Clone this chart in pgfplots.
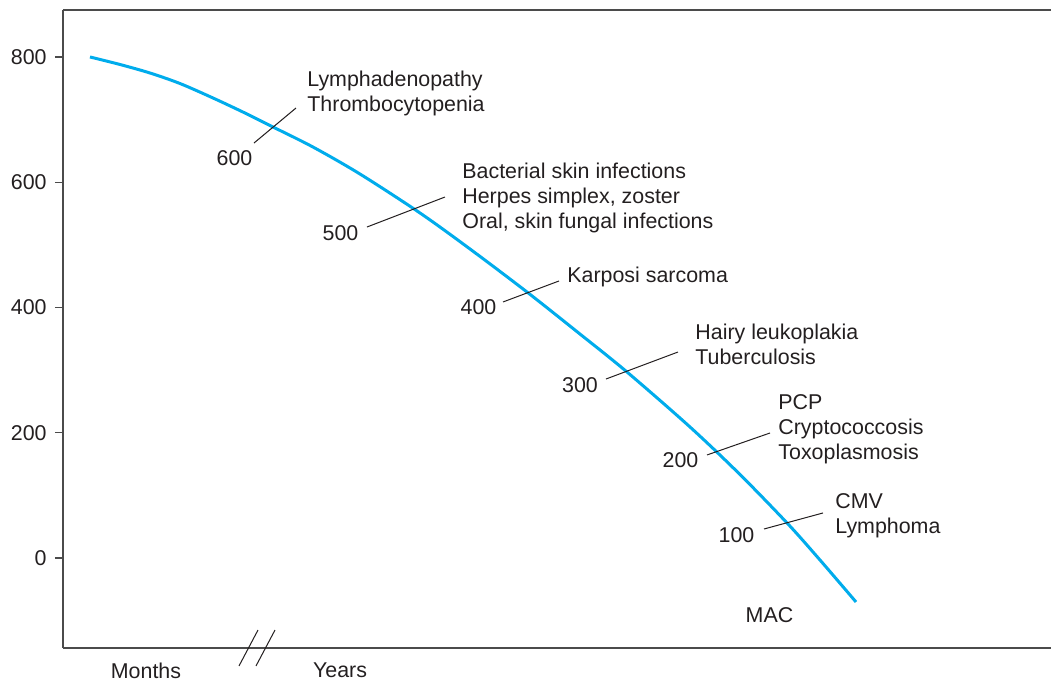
\documentclass[border=0pt]{standalone}
\usepackage{pgfplots}
\pgfplotsset{compat=1.18}
\usepackage{fontspec}
\setmainfont{Liberation Sans}
\definecolor{curve}{RGB}{0,172,236}
\definecolor{txt}{RGB}{35,31,32}
\definecolor{spine}{RGB}{75,75,75}
\newcommand{\lbl}{\fontsize{10.7}{12.5}\selectfont}
\begin{document}
\begin{tikzpicture}[x=1pt,y=1pt]
\useasboundingbox (0,0) rectangle (525.5,340.5);
\begin{axis}[
  at={(31.5pt,16.5pt)}, anchor=south west,
  scale only axis, width=494pt, height=319pt,
  xmin=63, xmax=1051, ymin=-143.7, ymax=875,
  axis x line*=bottom, axis y line*=left,
  axis line style={spine, line width=0.7pt},
  clip=false,
  xtick=\empty,
  ytick={0,200,400,600,800},
  tick align=outside,
  major tick length=4pt,
  ytick style={spine, line width=0.6pt},
  /pgf/number format/assume math mode=true,
  yticklabel style={font=\lbl, text=txt, anchor=east, inner sep=0pt, xshift=-4pt},
]
\addplot[curve, line width=1.5pt, smooth, tension=0.5] coordinates {
 (90,800) (120,788.0) (150,774.4) (180,757.6) (213,734.5) (245,710.5)
 (273,688.2) (313,656.2) (360,613.1) (420,550.9) (470,493.4) (527,424.7)
 (580,357.6) (627,297.0) (690,209.2) (740,133.3) (788,54.3) (820,-3.2)
 (856,-70.2)
};
\draw[spine, line width=0.7pt] (rel axis cs:0,1) -- (rel axis cs:1,1);
% leaders
\draw[txt, line width=0.5pt] (axis cs:254,662.6) -- (axis cs:296,718.5);
\draw[txt, line width=0.5pt] (axis cs:367,528.5) -- (axis cs:445,576.4);
\draw[txt, line width=0.5pt] (axis cs:503,408.8) -- (axis cs:559,442.3);
\draw[txt, line width=0.5pt] (axis cs:606,285.8) -- (axis cs:678,328.9);
\draw[txt, line width=0.5pt] (axis cs:707,164.5) -- (axis cs:770,199.6);
\draw[txt, line width=0.5pt] (axis cs:764,46.3) -- (axis cs:823,71.9);
% numbers
\node[font=\lbl, text=txt] at (axis cs:234.5,638.7) {600};
\node[font=\lbl, text=txt] at (axis cs:340.5,518.9) {500};
\node[font=\lbl, text=txt] at (axis cs:478.5,400.8) {400};
\node[font=\lbl, text=txt] at (axis cs:580,276.2) {300};
\node[font=\lbl, text=txt] at (axis cs:680.5,156.5) {200};
\node[font=\lbl, text=txt] at (axis cs:736.5,36.7) {100};
% texts
\node[font=\lbl, text=txt, anchor=west, align=left, inner sep=0pt] at (axis cs:307,742.5) {Lymphadenopathy\\Thrombocytopenia};
\node[font=\lbl, text=txt, anchor=west, align=left, inner sep=0pt] at (axis cs:462,575.5) {Bacterial skin infections\\Herpes simplex, zoster\\Oral, skin fungal infections};
\node[font=\lbl, text=txt, anchor=west, align=left, inner sep=0pt] at (axis cs:567,448.7) {Karposi sarcoma};
\node[font=\lbl, text=txt, anchor=west, align=left, inner sep=0pt] at (axis cs:695,340.9) {Hairy leukoplakia\\Tuberculosis};
\node[font=\lbl, text=txt, anchor=west, align=left, inner sep=0pt] at (axis cs:778,205.9) {PCP\\Cryptococcosis\\Toxoplasmosis};
\node[font=\lbl, text=txt, anchor=west, align=left, inner sep=0pt] at (axis cs:835,67.8) {CMV\\Lymphoma};
\node[font=\lbl, text=txt] at (axis cs:769.5,-91.0) {MAC};
% x axis labels and break
\node[font=\lbl, text=txt] at (axis cs:146,-179.6) {Months};
\node[font=\lbl, text=txt] at (axis cs:340,-179.6) {Years};
\draw[txt, line width=0.5pt] (axis cs:239,-172.4) -- (axis cs:258,-115);
\draw[txt, line width=0.5pt] (axis cs:256,-172.4) -- (axis cs:275,-115);
\end{axis}
\end{tikzpicture}
\end{document}
